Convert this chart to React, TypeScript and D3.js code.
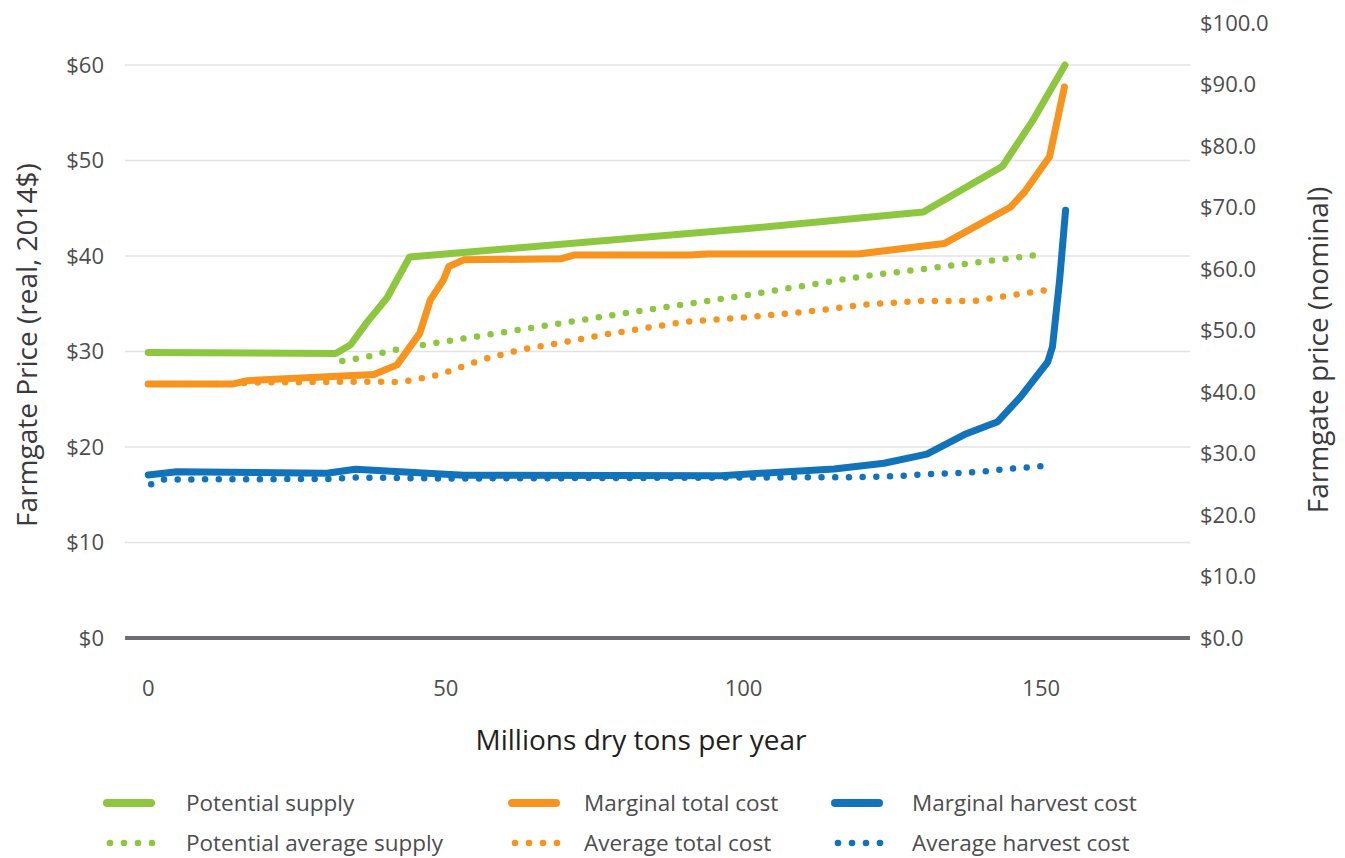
import React from "react";
import * as d3 from "d3";

// ---- Data ----
const potentialSupplyX = [0, 31.5, 34.0, 36.8, 40.1, 43.9, 101.2, 130.2, 143.5, 148.6, 154.0];
const potentialSupplyY = [29.9, 29.8, 30.7, 33.1, 35.6, 39.9, 42.9, 44.6, 49.4, 54.2, 60.0];

const marginalTotalX = [0, 14.3, 16.6, 37.9, 41.8, 45.6, 47.4, 49.6, 50.5, 53.0, 69.3, 71.5, 91.1, 93.9, 119.2, 133.7, 144.8, 147.2, 151.4, 153.9];
const marginalTotalY = [26.6, 26.6, 26.95, 27.6, 28.6, 31.9, 35.4, 37.5, 38.9, 39.6, 39.7, 40.1, 40.1, 40.2, 40.2, 41.3, 45.1, 46.7, 50.4, 57.7];

const marginalHarvestX = [0, 4.8, 30.0, 34.8, 53.0, 96.2, 115.2, 123.6, 130.8, 137.1, 142.7, 146.6, 151.1, 151.9, 153.1, 154.1];
const marginalHarvestY = [17.07, 17.4, 17.25, 17.67, 17.05, 17.0, 17.7, 18.3, 19.25, 21.3, 22.65, 25.3, 28.9, 30.5, 37.5, 44.8];

const potentialAvgX = [32.6, 34.9, 37.2, 39.6, 41.8, 46.3, 62.6, 81.0, 99.5, 120.3, 134.3, 150.6];
const potentialAvgY = [29.0, 29.25, 29.5, 29.9, 30.2, 30.7, 32.3, 34.1, 35.8, 37.9, 38.95, 40.2];

const avgTotalX = [0, 14, 17, 38.0, 42.3, 44.5, 46.7, 49.1, 51.3, 53.6, 55.8, 62.6, 69.3, 76.0, 83.0, 90.0, 99.0, 111.0, 120.3, 129.5, 138.8, 143.5, 150.6, 152.5];
const avgTotalY = [26.6, 26.6, 26.75, 26.85, 26.8, 27.0, 27.3, 27.6, 28.1, 28.6, 29.1, 30.2, 30.9, 31.7, 32.4, 33.1, 33.5, 34.2, 34.9, 35.3, 35.3, 35.75, 36.4, 36.5];

const avgHarvestX = [0.5, 2.5, 30, 35, 50, 100, 120, 126, 130.4, 134.9, 139.6, 144.4, 148.9, 151.4];
const avgHarvestY = [16.1, 16.6, 16.65, 16.8, 16.7, 16.8, 16.85, 16.95, 17.15, 17.25, 17.4, 17.7, 17.9, 18.1];

const xTicks = [0, 50, 100, 150];
const leftTicks = [0, 10, 20, 30, 40, 50, 60];
const rightTicks = [0, 10, 20, 30, 40, 50, 60, 70, 80, 90, 100];

const GREEN = "#8DC63F";
const ORANGE = "#F7941D";
const BLUE = "#1173BA";

const seriesList = [
  { name: "Potential average supply", xs: potentialAvgX, ys: potentialAvgY, color: GREEN, dotted: true },
  { name: "Average total cost", xs: avgTotalX, ys: avgTotalY, color: ORANGE, dotted: true },
  { name: "Average harvest cost", xs: avgHarvestX, ys: avgHarvestY, color: BLUE, dotted: true },
  { name: "Potential supply", xs: potentialSupplyX, ys: potentialSupplyY, color: GREEN, dotted: false },
  { name: "Marginal total cost", xs: marginalTotalX, ys: marginalTotalY, color: ORANGE, dotted: false },
  { name: "Marginal harvest cost", xs: marginalHarvestX, ys: marginalHarvestY, color: BLUE, dotted: false },
];

const legendItems = [
  { name: "Potential supply", color: GREEN, dotted: false },
  { name: "Marginal total cost", color: ORANGE, dotted: false },
  { name: "Marginal harvest cost", color: BLUE, dotted: false },
  { name: "Potential average supply", color: GREEN, dotted: true },
  { name: "Average total cost", color: ORANGE, dotted: true },
  { name: "Average harvest cost", color: BLUE, dotted: true },
];

export default function App() {
  const W = 1345, H = 858;
  const x = d3.scaleLinear().domain([-3.9, 175]).range([125, 1190]);
  const yL = d3.scaleLinear().domain([0, 60]).range([638, 65]);
  const yR = d3.scaleLinear().domain([0, 100]).range([638, 23]);
  const line = d3.line<[number, number]>().x((d) => x(d[0])).y((d) => yL(d[1]));
  const font = "'Open Sans', Lato, sans-serif";
  const textColor = "#4d4d4f";
  const legendCols = [103, 508, 831];
  const legendTextCols = [186, 584, 912];
  const legendRows = [803, 843];

  return (
    <div style={{ position: "absolute", left: 0, top: 0 }}>
      <svg width={W} height={H} style={{ display: "block", background: "#fff" }} fontFamily={font}>
        {/* grid */}
        {leftTicks.filter((t) => t !== 0).map((t) => (
          <line key={"g" + t} x1={x(-3.9)} x2={x(175)} y1={yL(t)} y2={yL(t)} stroke="#e3e3e3" strokeWidth={1.5} />
        ))}
        {/* baseline */}
        <line x1={x(-3.9)} x2={x(175)} y1={yL(0)} y2={yL(0)} stroke="#6d6e71" strokeWidth={4} />

        {/* left ticks */}
        {leftTicks.map((t) => (
          <text key={"l" + t} x={104} y={yL(t)} dy="0.35em" textAnchor="end" fontSize={22} fill={textColor}>
            {"$" + t}
          </text>
        ))}
        {/* right ticks */}
        {rightTicks.map((t) => (
          <text key={"r" + t} x={1200} y={yR(t)} dy="0.35em" textAnchor="start" fontSize={22} fill={textColor}>
            {"$" + t.toFixed(1)}
          </text>
        ))}
        {/* x ticks */}
        {xTicks.map((t) => (
          <text key={"x" + t} x={x(t)} y={688} dy="0.35em" textAnchor="middle" fontSize={22} fill={textColor}>
            {t}
          </text>
        ))}

        {/* axis titles */}
        <text transform={`translate(27,345) rotate(-90)`} textAnchor="middle" dy="0.35em" fontSize={28} fill="#3a3a3c">
          Farmgate Price (real, 2014$)
        </text>
        <text transform={`translate(1318,350) rotate(-90)`} textAnchor="middle" dy="0.35em" fontSize={28} fill="#3a3a3c">
          Farmgate price (nominal)
        </text>
        <text x={641} y={740} textAnchor="middle" dy="0.35em" fontSize={28} fill="#231f20" fontWeight={500}>
          Millions dry tons per year
        </text>

        {/* series */}
        {seriesList.map((s) => {
          const pts: [number, number][] = s.xs.map((v, i) => [v, s.ys[i]]);
          return (
            <path
              key={s.name}
              d={line(pts) || ""}
              fill="none"
              stroke={s.color}
              strokeWidth={s.dotted ? 6.5 : 7}
              strokeLinecap="round"
              strokeLinejoin="round"
              strokeDasharray={s.dotted ? "0 13.7" : undefined}
            />
          );
        })}

        {/* legend */}
        {legendItems.map((it, i) => {
          const col = i % 3;
          const row = Math.floor(i / 3);
          const ly = legendRows[row];
          const lx = legendCols[col];
          return (
            <g key={"lg" + i}>
              {it.dotted ? (
                [0, 1, 2, 3].map((k) => (
                  <circle key={k} cx={lx + 7 + k * 14} cy={ly} r={3.3} fill={it.color} />
                ))
              ) : (
                <line x1={lx + 4} x2={lx + 48} y1={ly} y2={ly} stroke={it.color} strokeWidth={8} strokeLinecap="round" />
              )}
              <text x={legendTextCols[col]} y={ly} dy="0.35em" fontSize={22.5} fill={textColor}>
                {it.name}
              </text>
            </g>
          );
        })}
      </svg>
    </div>
  );
}
